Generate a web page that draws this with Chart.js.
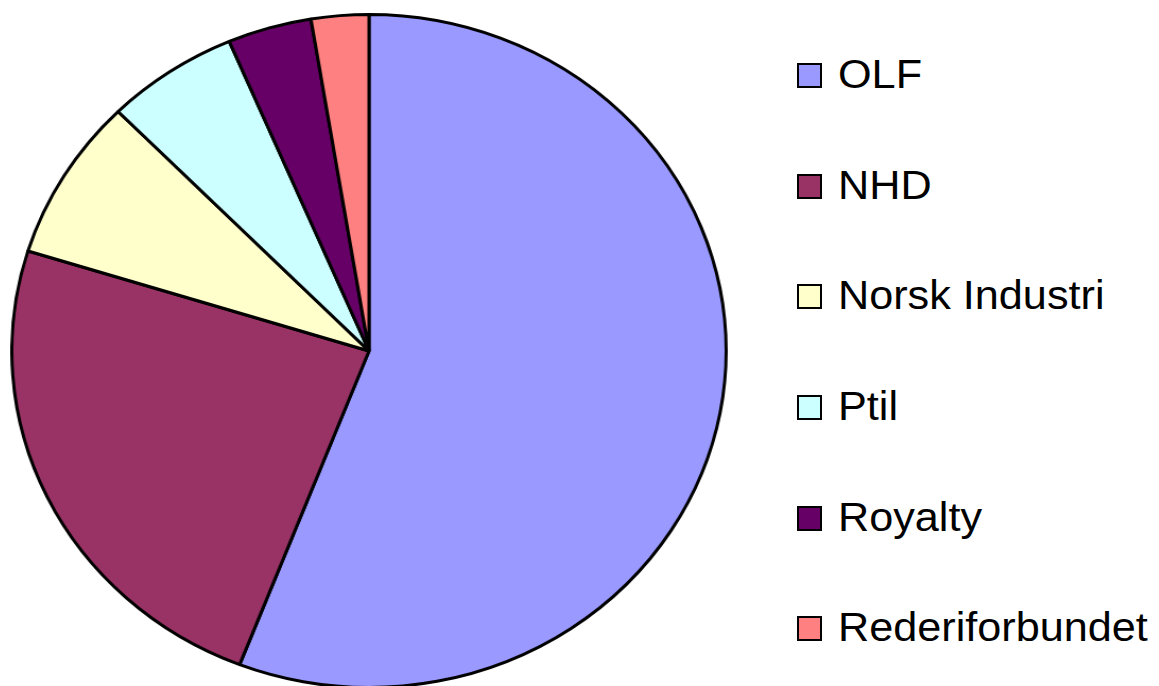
<!DOCTYPE html>
<html>
<head>
<meta charset="utf-8">
<script src="https://cdn.jsdelivr.net/npm/chart.js@4.4.1/dist/chart.umd.min.js"></script>
<style>
  html, body { margin: 0; padding: 0; background: #ffffff; }
  body { width: 1159px; height: 686px; overflow: hidden; position: relative; font-family: "Liberation Sans", Arial, sans-serif; }
  #pieWrap { position: absolute; left: 31.3px; top: 13px; width: 676px; height: 676px; transform: scaleX(1.0614); transform-origin: 338px 338px; }
  .item { position: absolute; left: 797px; height: 40px; }
  .box { position: absolute; left: 0; top: 9px; width: 25px; height: 25px; box-sizing: border-box; border: 2px solid #000; }
  .label { position: absolute; left: 41px; top: 0; font-size: 40px; line-height: 40px; white-space: nowrap; color: #000; transform: scaleX(1.08); transform-origin: 0 0; }
</style>
</head>
<body>
<div id="pieWrap"><canvas id="c" width="676" height="676"></canvas></div>
<div id="legend"></div>
<script>
const categories = ['OLF', 'NHD', 'Norsk Industri', 'Ptil', 'Royalty', 'Rederiforbundet'];
const shares = [55.9, 23.9, 7.8, 6.0, 3.8, 2.6];
const sliceColors = ['#9999FF', '#993366', '#FFFFCC', '#CCFFFF', '#660066', '#FF8080'];

new Chart(document.getElementById('c'), {
  type: 'pie',
  data: {
    labels: categories,
    datasets: [{
      data: shares,
      backgroundColor: sliceColors,
      borderColor: '#000000',
      borderWidth: 3,
      hoverOffset: 0
    }]
  },
  options: {
    responsive: false,
    animation: false,
    events: [],
    layout: { padding: 0 },
    plugins: { legend: { display: false }, tooltip: { enabled: false } }
  }
});

const legend = document.getElementById('legend');
categories.forEach((name, i) => {
  const item = document.createElement('div');
  item.className = 'item';
  item.style.top = (54.15 + 110.6 * i) + 'px';
  const box = document.createElement('div');
  box.className = 'box';
  box.style.background = sliceColors[i];
  const label = document.createElement('div');
  label.className = 'label';
  label.textContent = name;
  item.appendChild(box);
  item.appendChild(label);
  legend.appendChild(item);
});
</script>
</body>
</html>
